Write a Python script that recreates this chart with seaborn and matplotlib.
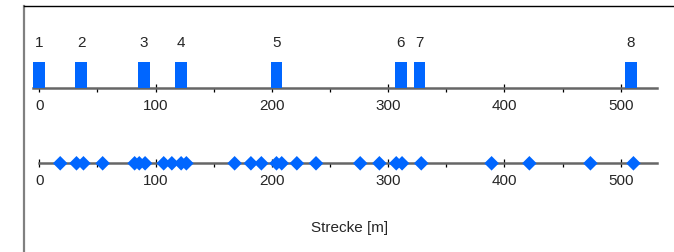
import numpy as np
import pandas as pd
import matplotlib.pyplot as plt
import seaborn as sns
from matplotlib.ticker import MultipleLocator

# Positionen der Bauwerke (oben, nummeriert) und der Messpunkte (unten), in m
station_ids = ["1", "2", "3", "4", "5", "6", "7", "8"]
station_pos = [0, 36, 90, 122, 204, 311, 327, 509]
station_height = [1, 1, 1, 1, 1, 1, 1, 1]

point_pos = [18, 32, 38, 54.5, 82, 86, 91, 107, 114, 122, 126.5,
             168, 182, 191, 204, 208.5, 221.5, 238, 276, 292.5,
             307, 312, 328.5, 389, 421.5, 474, 511]

x_label = "Strecke [m]"
x_ticks = [0, 100, 200, 300, 400, 500]

BLUE = "#0066ff"
W, H = 674, 253
X_MIN, X_MAX = -5.4, 531


def px_box(left, right, bottom, top):
    """Convert pixel box (from top-left) to figure fractions."""
    return [left / W, 1 - bottom / H, (right - left) / W, (bottom - top) / H]


def style_axis(ax):
    ax.set_xlim(X_MIN, X_MAX)
    ax.set_xticks(x_ticks)
    ax.xaxis.set_minor_locator(MultipleLocator(50))
    for side in ["left", "right", "top"]:
        ax.spines[side].set_visible(False)
    ax.spines["bottom"].set_color("#666666")
    ax.spines["bottom"].set_linewidth(1.8)
    ax.set_yticks([])
    ax.set_ylabel("")
    ax.tick_params(axis="x", which="both", bottom=True)
    ax.tick_params(axis="x", which="major", direction="inout", length=6,
                   width=0.9, color="black", pad=4, labelsize=11)
    ax.tick_params(axis="x", which="minor", direction="out", length=3,
                   width=0.9, color="black")
    ax.patch.set_alpha(0)


sns.set_theme(style="white")
plt.rcParams["font.family"] = ["Liberation Sans", "DejaVu Sans"]

fig = plt.figure(figsize=(W / 100, H / 100), dpi=100)

# aeusserer Rahmen (nur links und oben sichtbar)
frame = fig.add_axes(px_box(24, W + 20, H + 20, 7))
frame.set_xticks([])
frame.set_yticks([])
frame.spines["left"].set_color("#808080")
frame.spines["left"].set_linewidth(1.6)
frame.spines["top"].set_color("black")
frame.spines["top"].set_linewidth(1.0)
frame.spines["right"].set_visible(False)
frame.spines["bottom"].set_visible(False)

# oben: Balken mit Nummern
stations = pd.DataFrame({"pos": station_pos, "h": station_height, "id": station_ids})
ax_top = fig.add_axes(px_box(33, 656.7, 89.3, 30))
min_gap = np.min(np.diff(np.sort(station_pos)))
sns.barplot(data=stations, x="pos", y="h", native_scale=True,
            width=10 / min_gap, color=BLUE, saturation=1, ax=ax_top)
for p in ax_top.patches:
    p.set_edgecolor("none")
    p.set_zorder(3)
ax_top.set_ylim(0, 2.23)
for x, lab in zip(station_pos, station_ids):
    ax_top.text(x, 1.75, lab, ha="center", va="center", fontsize=11)
style_axis(ax_top)
ax_top.set_xlabel("")

# unten: Messpunkte als Rauten
points = pd.DataFrame({"pos": point_pos, "y": np.zeros(len(point_pos))})
ax_bot = fig.add_axes(px_box(33, 656.7, 164.3, 134.3))
sns.scatterplot(data=points, x="pos", y="y", marker="D", s=55, color=BLUE,
                edgecolor="none", clip_on=False, zorder=5, ax=ax_bot)
ax_bot.set_ylim(0, 1)
style_axis(ax_bot)
ax_bot.spines["bottom"].set_bounds(0, X_MAX)
ax_bot.set_xlabel(x_label, fontsize=11)
ax_bot.xaxis.set_label_coords(0.508, (164.3 - 228) / 30)
ax_bot.xaxis.label.set_va("center")

fig.savefig("out.png", dpi=100)
